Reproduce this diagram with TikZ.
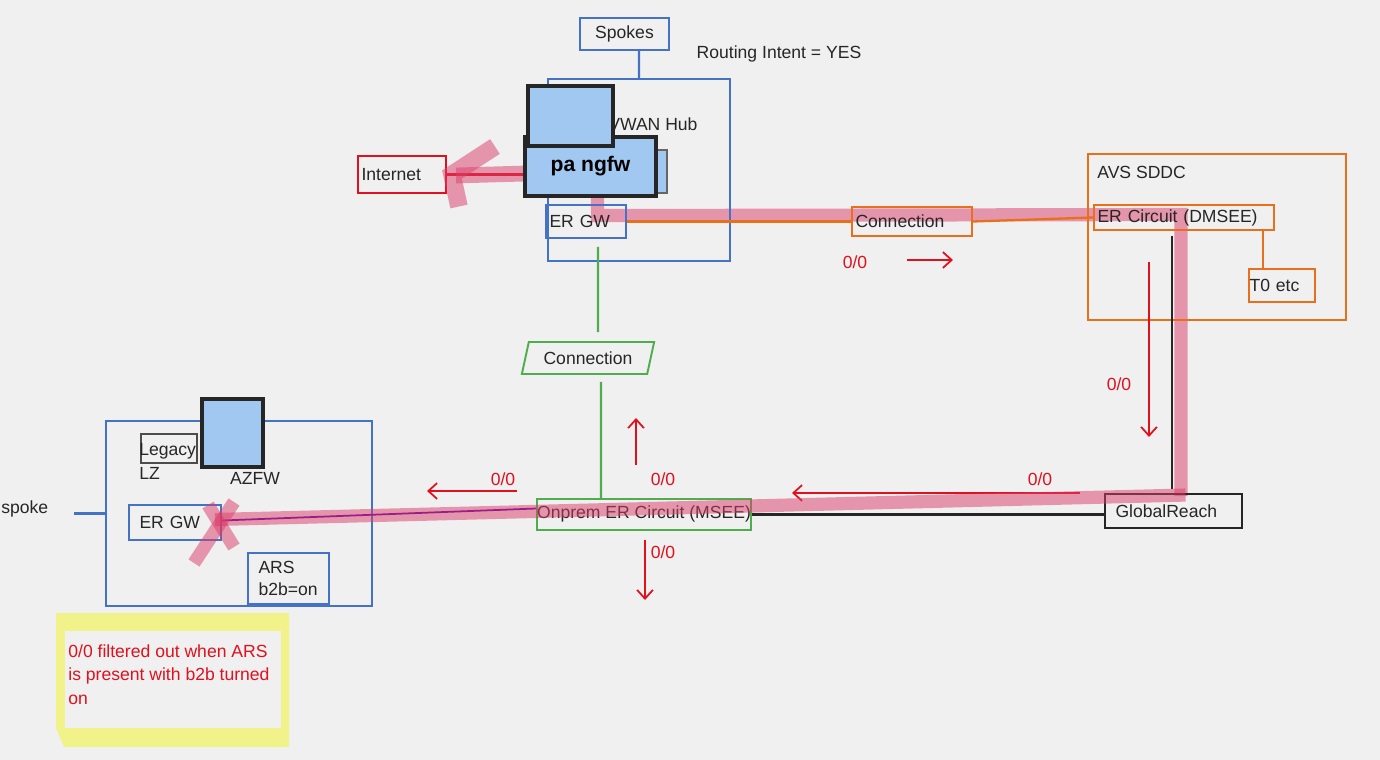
\documentclass[tikz,border=0pt]{standalone}
\usepackage{fontspec}
\setmainfont{Liberation Sans}
\usetikzlibrary{arrows.meta,positioning,calc,shapes.geometric}
\pgfdeclarelayer{back}
\pgfdeclarelayer{front}
\pgfsetlayers{back,main,front}

\definecolor{bgc}{HTML}{F0F0F0}
\definecolor{azblue}{HTML}{4472C4}
\definecolor{azred}{HTML}{E0101E}
\definecolor{azorange}{HTML}{E8701C}
\definecolor{azgreen}{HTML}{4EAE4E}
\definecolor{fwfill}{HTML}{A0C8F0}
\definecolor{bandpink}{HTML}{DC3C68}
\definecolor{noteyellow}{HTML}{F2F28A}
\definecolor{inkc}{HTML}{262626}

\begin{document}
\begin{tikzpicture}[x=0.02cm,y=-0.02cm,
  every node/.style={font=\fontsize{10}{12}\selectfont,text=inkc},
  box/.style={draw,line width=1.1pt,inner xsep=2pt,inner ysep=0pt,align=left},
  bluebox/.style={box,draw=azblue},
  orbox/.style={box,draw=azorange},
  fwbox/.style={draw=inkc,line width=1.8pt,fill=fwfill,inner sep=0pt},
  link/.style={line width=1.3pt},
  band/.style={draw=bandpink,draw opacity=0.5,line width=7.5pt},
  route/.style={draw=azred,line width=1pt,-{Straight Barb[length=5pt,width=9pt]}},
  routelbl/.style={text=azred}]
\begin{pgfonlayer}{back}
\fill[bgc] (0,0) rectangle (1380,760);
\end{pgfonlayer}
\useasboundingbox (0,0) rectangle (1380,760);

% vwan hub side
\node[bluebox,minimum width=1.78cm,minimum height=0.64cm,align=center] (spokes) at (624.5,34) {Spokes};
\node at (779,54) {Routing Intent = YES};
\node[draw=azblue,line width=1.1pt,minimum width=3.64cm,minimum height=3.64cm] (hub) at (639,170) {};
\node[anchor=west,inner sep=0pt] (hublbl) at (608,124) {VWAN Hub};
\node[box,draw=azred,text width=1.62cm,minimum height=0.74cm] (internet) at (402,174.5) {Internet};
\node[bluebox,text width=1.46cm,minimum height=0.66cm] (ergw) at (586,221.5) {ER GW};
\node[orbox,text width=2.26cm,minimum height=0.58cm] (conn1) at (912,221.5) {Connection};
\node[trapezium,trapezium left angle=78,trapezium right angle=102,draw=azgreen,line width=1.1pt,
  minimum width=2.66cm,minimum height=0.64cm,inner xsep=0pt,trapezium stretches=true] (conn2) at (588,358) {Connection};

% firewall stack on top
\begin{pgfonlayer}{front}
\node[draw=black!60,line width=1pt,fill=fwfill,minimum width=0.54cm,minimum height=0.86cm] (shadow) at (653.5,171.5) {};
\node[fwbox,minimum width=2.62cm,minimum height=1.18cm,font=\fontsize{12}{14}\selectfont\bfseries,text=black] (pangfw) at (590.5,166.5) {pa ngfw};
\node[fwbox,minimum width=1.7cm,minimum height=1.2cm] (fwtop) at (570.5,116) {};
\end{pgfonlayer}

% avs
\node[draw=azorange,line width=1.1pt,minimum width=5.16cm,minimum height=3.32cm] (avs) at (1217,237) {};
\node[anchor=west,inner sep=0pt] (avslbl) at (1097,172) {AVS SDDC};
\node[orbox,text width=3.46cm,minimum height=0.5cm] (erc) at (1184,217.5) {ER Circuit (DMSEE)};
\node[orbox,inner xsep=0.5pt,text width=1.3cm,minimum height=0.66cm] (t0) at (1282,285.5) {T0 etc};
\node[box,draw=inkc,inner xsep=6pt,text width=2.32cm,minimum height=0.68cm] (gr) at (1173.5,511) {GlobalReach};
\node[box,draw=azgreen,inner xsep=0pt,minimum width=4.16cm,minimum height=0.62cm,align=center] (onprem) at (644,514.5) {\raisebox{3pt}{Onprem ER Circuit (MSEE)}};

% legacy spoke
\node[draw=azblue,line width=1.1pt,minimum width=5.32cm,minimum height=3.7cm] (vnet) at (239,513.5) {};
\node[anchor=west,inner sep=0pt] (spoke) at (1,509) {spoke};
\node[draw=black!70,line width=1.1pt,minimum width=1.12cm,minimum height=0.58cm] (legacy) at (169,448.5) {};
\node[anchor=north west,inner sep=0pt,align=left,font=\fontsize{10}{13.6}\selectfont] (legacylbl) at (139,443) {Legacy\\LZ};
\node[fwbox,minimum width=1.22cm,minimum height=1.36cm] (azfw) at (232.5,433) {};
\node (azfwlbl) at (255,478) {AZFW};
\node[bluebox,inner xsep=6pt,text width=1.42cm,minimum height=0.7cm] (ergw2) at (175,522.5) {ER GW};
\node[bluebox,inner xsep=6pt,text width=1.2cm,minimum height=1.02cm,font=\fontsize{10}{13}\selectfont] (ars) at (288.5,578.5) {ARS\\b2b=on};

% connectors
\draw[link,azblue] ($(spokes.south)+(14.5,0)$) -- (hub.north);
\draw[link,azblue] (vnet.west) -- ++(-31,0) coordinate (spokeend);
\draw[link,azorange] (ergw.east) -- (conn1.west);
\draw[link,azorange] (conn1.east) -- (erc.west);
\draw[link,azorange] ($(erc.south)+(79,0)$) -- ($(t0.north)+(-19,0)$);
\draw[link,inkc] ($(erc.south)+(-12,5)$) -- ($(gr.north)+(-1.5,-4)$);
\draw[link,azgreen] ($(ergw.south)+(12,8)$) -- ($(conn2.north)+(10,-9)$);
\draw[link,azgreen] ($(conn2.south)+(13,7)$) -- ($(onprem.north)+(-43,0)$);
\draw[link,inkc] (onprem.east) -- (onprem.east -| gr.west);
\draw[violet!70!blue,line width=1pt] ($(onprem.west)+(0,-6)$) -- ($(ergw2.east)+(0,-2)$);
\draw[link,azred] (internet.east) -- (internet.east -| pangfw.west);

% 0/0 routes
\draw[route] (907,260) -- (953,260);
\node[routelbl] at (855,262) {0/0};
\draw[route] (1149,262) -- (1149,437);
\node[routelbl] at (1119,384) {0/0};
\draw[route] (1080,493) -- (792,493);
\node[routelbl] at (1040,479) {0/0};
\draw[route] (636,465) -- (636,418);
\node[routelbl] at (663,479) {0/0};
\draw[route] (645,540) -- (645,600);
\node[routelbl] at (663,552) {0/0};
\draw[route] (517,491) -- (427,491);
\node[routelbl] at (503,479) {0/0};

% pink traffic path
\begin{pgfonlayer}{back}
\draw[band] ($(pangfw.south)+(7,0)$) -- ($(pangfw.south)+(7,18)$) -- ($(erc.center)+(-3,-3)$) -- ($(gr.north)+(7.5,3)$);
\end{pgfonlayer}
\draw[band] ($(gr.north)+(12,2)$) -- ($(ergw2.east)+(-7,-3)$);
\draw[band] ($(ergw2.east)+(-14,-17.5)$) -- ($(ergw2.east)+(12,24.5)$);
\draw[band] ($(ergw2.east)+(12,-20.5)$) -- ($(ergw2.east)+(-28,40.5)$);
\draw[band,line width=9pt] ($(internet.east)+(79,-1)$) -- ($(internet.east)+(9,1)$);
\draw[band,line width=10pt,line join=miter] ($(internet.east)+(48,-28)$) -- ($(internet.east)+(5,0)$) -- ($(internet.east)+(12,32)$);

% note
\fill[noteyellow] (56,613) -- (289,613) -- (289,747) -- (64,747) -- (56,728) -- cycle;
\fill[bgc] (65,631) rectangle (281,728);
\node[anchor=north west,inner sep=0pt,align=left,text=azred,font=\fontsize{10}{13.6}\selectfont] (note) at (68,644)
  {0/0 filtered out when ARS\\is present with b2b turned\\on};
\end{tikzpicture}
\end{document}
